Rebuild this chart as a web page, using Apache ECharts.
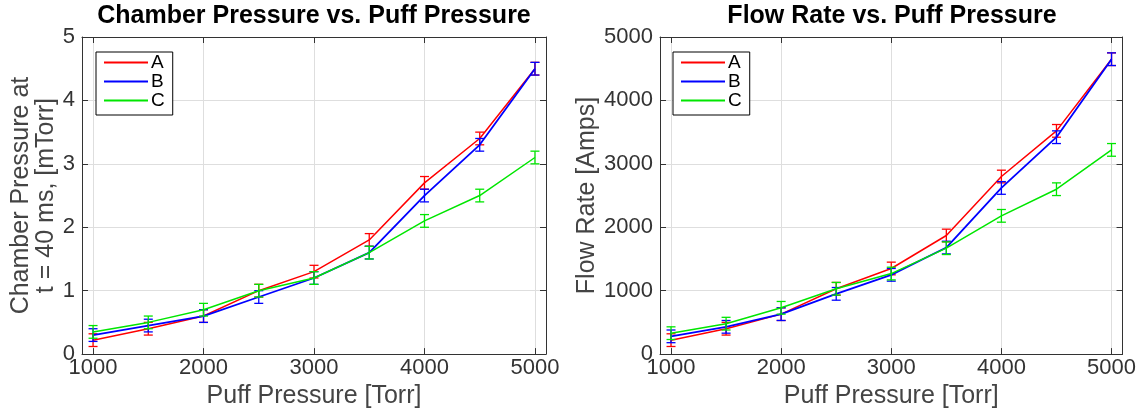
<!DOCTYPE html>
<html>
<head>
<meta charset="utf-8">
<script src="https://cdn.jsdelivr.net/npm/echarts@6/dist/echarts.min.js"></script>
<style>html,body{margin:0;padding:0;background:#fff}#c{width:1139px;height:414px}</style>
</head>
<body>
<div id="c"></div>
<script>
// ---- data ----
const puff = [1000, 1500, 2000, 2500, 3000, 3500, 4000, 4500, 5000];
const xTicks = [1000, 2000, 3000, 4000, 5000];
const seriesNames = ['A', 'B', 'C'];

const chamberA = [0.22, 0.40, 0.60, 1.00, 1.30, 1.80, 2.70, 3.40, 4.50];
const chamberB = [0.30, 0.45, 0.60, 0.90, 1.20, 1.60, 2.50, 3.30, 4.50];
const chamberC = [0.35, 0.50, 0.70, 1.00, 1.20, 1.60, 2.10, 2.50, 3.10];
const chamberErrA = [0.1, 0.1, 0.1, 0.1, 0.1, 0.1, 0.1, 0.1, 0.1];
const chamberErrB = [0.1, 0.1, 0.1, 0.1, 0.1, 0.1, 0.1, 0.1, 0.1];
const chamberErrC = [0.1, 0.1, 0.1, 0.1, 0.1, 0.1, 0.1, 0.1, 0.1];

const flowA = [220, 400, 630, 1030, 1350, 1870, 2800, 3520, 4650];
const flowB = [280, 430, 630, 950, 1250, 1680, 2620, 3420, 4650];
const flowC = [330, 480, 730, 1030, 1270, 1670, 2180, 2600, 3220];
const flowErrA = [100, 100, 100, 100, 100, 100, 100, 100, 100];
const flowErrB = [100, 100, 100, 100, 100, 100, 100, 100, 100];
const flowErrC = [100, 100, 100, 100, 100, 100, 100, 100, 100];

// ---- styling ----
const colors = ['#ff0000', '#0000ff', '#00e600'];
const widths = [1.5, 1.8, 1.5];
const FONT = '"Liberation Sans", Arial, Helvetica, sans-serif';
const tickColor = '#333';

function pairs(ys) { return puff.map((x, i) => [x, ys[i]]); }
function errs(ys, es) { return puff.map((x, i) => [x, ys[i] - es[i], ys[i] + es[i]]); }
function plain(v) { return String(v); }

function errRender(params, api) {
  const x = api.value(0), lo = api.value(1), hi = api.value(2);
  const p1 = api.coord([x, lo]), p2 = api.coord([x, hi]);
  const w = 4.5;
  const style = { stroke: api.visual('color'), lineWidth: 1.3, fill: null };
  return {
    type: 'group',
    children: [
      { type: 'line', shape: { x1: p1[0], y1: p1[1], x2: p2[0], y2: p2[1] }, style: style },
      { type: 'line', shape: { x1: p1[0] - w, y1: p1[1], x2: p1[0] + w, y2: p1[1] }, style: style },
      { type: 'line', shape: { x1: p2[0] - w, y1: p2[1], x2: p2[0] + w, y2: p2[1] }, style: style }
    ]
  };
}

const grids = [
  { left: 82, top: 37, width: 464, height: 321 },
  { left: 660, top: 37, width: 463, height: 321 }
];

function xAxisPair(g) {
  const common = {
    type: 'value', gridIndex: g, min: 900, max: 5100,
    axisLine: { show: true, onZero: false, lineStyle: { color: tickColor, width: 1 } },
    axisTick: { show: true, inside: true, length: 6, customValues: xTicks, lineStyle: { color: tickColor } }
  };
  return [
    Object.assign({}, common, {
      position: 'bottom',
      name: 'Puff Pressure [Torr]', nameLocation: 'middle', nameGap: 25,
      nameTextStyle: { fontFamily: FONT, fontSize: 25, color: '#444' },
      axisLabel: { show: true, customValues: xTicks, formatter: plain, margin: 3, fontFamily: FONT, fontSize: 22, color: tickColor },
      splitLine: { show: true, lineStyle: { color: '#dedede', width: 1 } }
    }),
    Object.assign({}, common, {
      position: 'top',
      axisLabel: { show: false },
      splitLine: { show: false }
    })
  ];
}

function yAxisPair(g, max, interval, name, nameGap, lh) {
  const common = {
    type: 'value', gridIndex: g, min: 0, max: max, interval: interval,
    axisLine: { show: true, onZero: false, lineStyle: { color: tickColor, width: 1 } },
    axisTick: { show: true, inside: true, length: 6, lineStyle: { color: tickColor } }
  };
  return [
    Object.assign({}, common, {
      position: 'left',
      name: name, nameLocation: 'middle', nameGap: nameGap,
      nameTextStyle: { fontFamily: FONT, fontSize: 25, color: '#444', lineHeight: lh },
      axisLabel: { show: true, formatter: plain, margin: 7, fontFamily: FONT, fontSize: 22, color: tickColor },
      splitLine: { show: true, lineStyle: { color: '#dedede', width: 1 } }
    }),
    Object.assign({}, common, {
      position: 'right',
      axisLabel: { show: false },
      splitLine: { show: false }
    })
  ];
}

const xAxes = xAxisPair(0).concat(xAxisPair(1));
const yAxes = yAxisPair(0, 5, 1, 'Chamber Pressure at\nt = 40 ms, [mTorr]', 22, 25)
  .concat(yAxisPair(1, 5000, 1000, 'Flow Rate [Amps]', 60, 25));

const chamberSets = [[chamberA, chamberErrA], [chamberB, chamberErrB], [chamberC, chamberErrC]];
const flowSets = [[flowA, flowErrA], [flowB, flowErrB], [flowC, flowErrC]];

const series = [];
function addSet(sets, xi, yi) {
  sets.forEach((s, k) => {
    series.push({
      type: 'custom', name: seriesNames[k] + ' err', xAxisIndex: xi, yAxisIndex: yi,
      renderItem: errRender, itemStyle: { color: colors[k] },
      encode: { x: 0, y: [1, 2] },
      data: errs(s[0], s[1]), z: 2 + k, silent: true
    });
    series.push({
      type: 'line', name: seriesNames[k], xAxisIndex: xi, yAxisIndex: yi,
      data: pairs(s[0]), showSymbol: false, symbol: 'none',
      lineStyle: { color: colors[k], width: widths[k] },
      itemStyle: { color: colors[k] },
      z: 2 + k, animation: false
    });
  });
}
addSet(chamberSets, 0, 0);
addSet(flowSets, 2, 2);

function legendAt(left) {
  return {
    orient: 'vertical', left: left, top: 52,
    data: seriesNames,
    icon: 'rect', itemWidth: 44, itemHeight: 2, itemGap: 0,
    padding: [1, 8, 5, 8],
    borderColor: '#000', borderWidth: 1, backgroundColor: '#fff',
    textStyle: { fontFamily: FONT, fontSize: 19, color: '#000', lineHeight: 19, padding: [0, 0, 0, -2] }
  };
}

const option = {
  animation: false,
  backgroundColor: '#fff',
  title: [
    { text: 'Chamber Pressure vs. Puff Pressure', left: 314, top: 4, textAlign: 'center', padding: 0,
      textStyle: { fontFamily: FONT, fontSize: 25, fontWeight: 'bold', color: '#000' } },
    { text: 'Flow Rate vs. Puff Pressure', left: 892, top: 4, textAlign: 'center', padding: 0,
      textStyle: { fontFamily: FONT, fontSize: 25, fontWeight: 'bold', color: '#000' } }
  ],
  legend: [legendAt(96), legendAt(673)],
  grid: grids,
  xAxis: xAxes,
  yAxis: yAxes,
  series: series
};

const chart = echarts.init(document.getElementById('c'), null, { renderer: 'canvas' });
chart.setOption(option);
</script>
</body>
</html>
